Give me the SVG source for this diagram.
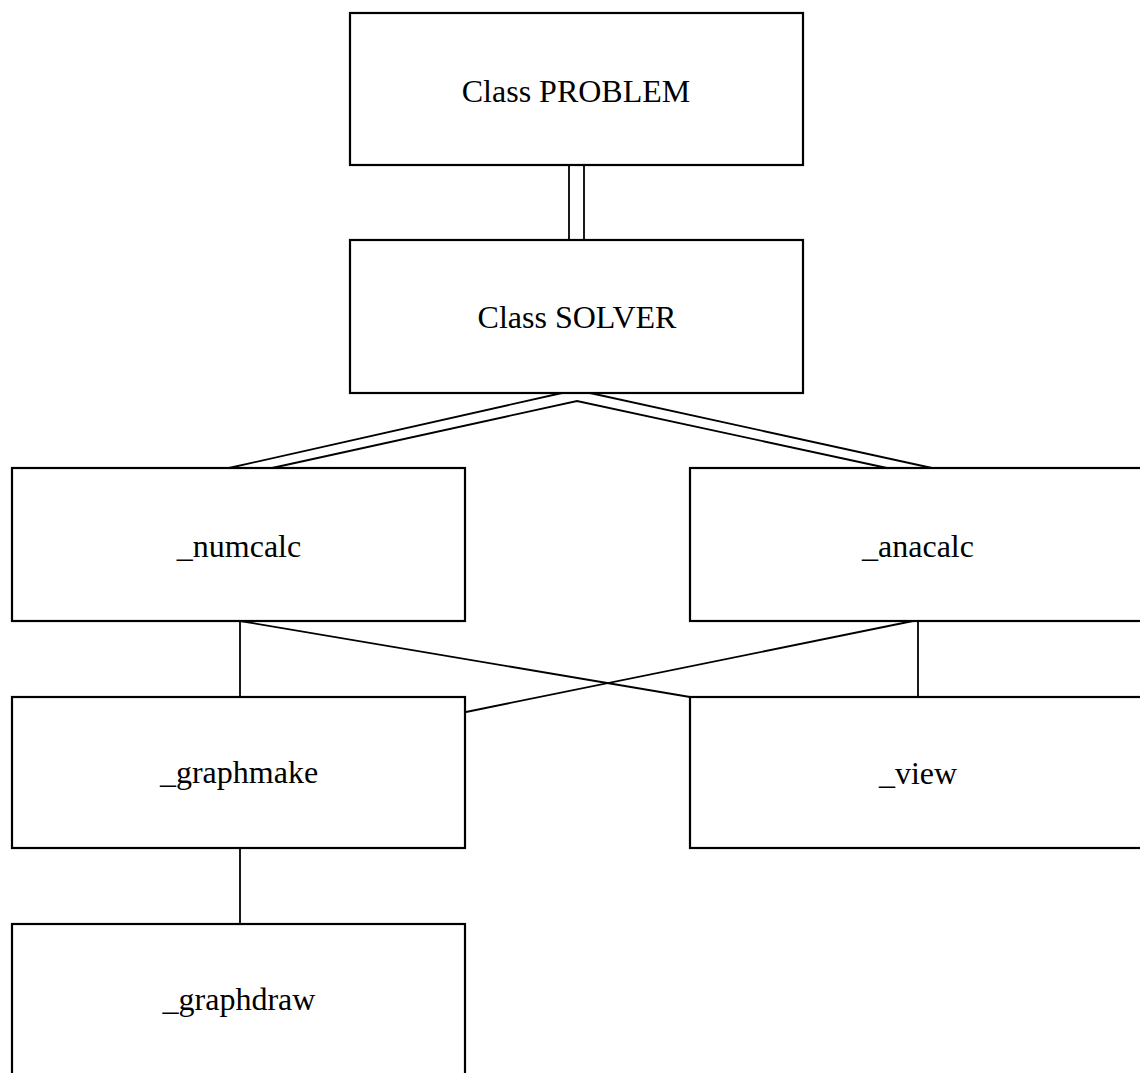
<svg xmlns="http://www.w3.org/2000/svg" width="1140" height="1073" viewBox="0 0 1140 1073">
<style>
.box{fill:#fff;stroke:#000;stroke-width:2.2}
.lbl{font-family:"Liberation Serif","DejaVu Serif",serif;font-size:32px;fill:#000;text-anchor:middle}
.con{fill:none;stroke:#000;stroke-width:1.8}
</style>
<rect width="1140" height="1073" fill="#fff"/>
<g id="connectors">
<line class="con" x1="569" y1="165" x2="569" y2="240"/>
<line class="con" x1="584" y1="165" x2="584" y2="240"/>
<polyline class="con" points="229,468 562,393"/>
<polyline class="con" points="272,468 577,401 887,468"/>
<polyline class="con" points="590,393 932,468"/>
<line class="con" x1="240" y1="621" x2="240" y2="697"/>
<line class="con" x1="918" y1="621" x2="918" y2="697"/>
<line class="con" x1="240" y1="621" x2="690" y2="697"/>
<line class="con" x1="913" y1="621" x2="466" y2="712"/>
<line class="con" x1="240" y1="848" x2="240" y2="924"/>
</g>
<g id="problem">
<rect class="box" x="350" y="13" width="453" height="152"/>
<text class="lbl" x="576" y="102">Class PROBLEM</text>
</g>
<g id="solver">
<rect class="box" x="350" y="240" width="453" height="153"/>
<text class="lbl" x="577" y="328">Class SOLVER</text>
</g>
<g id="numcalc">
<rect class="box" x="12" y="468" width="453" height="153"/>
<text class="lbl" x="239" y="557">_numcalc</text>
</g>
<g id="anacalc">
<rect class="box" x="690" y="468" width="456" height="153"/>
<text class="lbl" x="918" y="557">_anacalc</text>
</g>
<g id="graphmake">
<rect class="box" x="12" y="697" width="453" height="151"/>
<text class="lbl" x="239" y="783">_graphmake</text>
</g>
<g id="view">
<rect class="box" x="690" y="697" width="456" height="151"/>
<text class="lbl" x="918" y="784">_view</text>
</g>
<g id="graphdraw">
<rect class="box" x="12" y="924" width="453" height="160"/>
<text class="lbl" x="239" y="1010">_graphdraw</text>
</g>
</svg>
